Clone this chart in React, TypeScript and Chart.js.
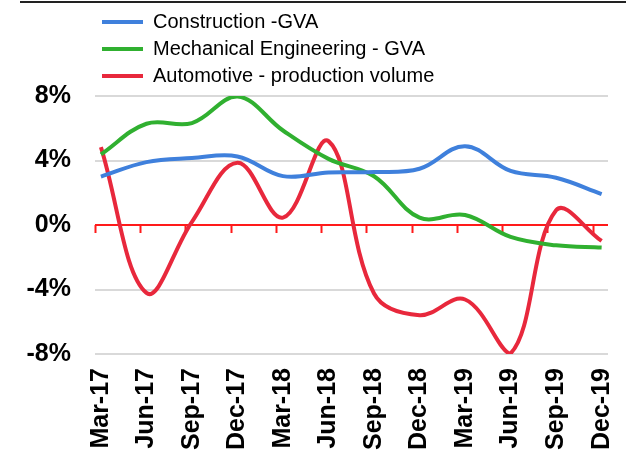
import React, { useEffect, useRef } from "react";
import { Chart, registerables } from "chart.js";

Chart.register(...registerables);

const categories = ["Mar-17", "Jun-17", "Sep-17", "Dec-17", "Mar-18", "Jun-18", "Sep-18", "Dec-18", "Mar-19", "Jun-19", "Sep-19", "Dec-19"];
const construction = [3.0, 3.9, 4.15, 4.25, 3.03, 3.26, 3.28, 3.49, 4.89, 3.35, 2.93, 1.92];
const mechanical = [4.38, 6.28, 6.32, 7.97, 5.86, 4.1, 3.02, 0.46, 0.62, -0.74, -1.26, -1.4];
const automotive = [4.83, -4.21, 0.2, 3.86, 0.46, 5.2, -4.25, -5.59, -4.62, -7.96, 0.91, -0.99];
const yTicks = [-8, -4, 0, 4, 8];
const seriesNames = ["Construction -GVA", "Mechanical Engineering - GVA", "Automotive - production volume"];

const BLUE = "#3f80dc";
const GREEN = "#30b030";
const RED = "#e8283c";
const FONT = "'Liberation Sans', Arial, sans-serif";

const toPoints = (arr: number[]) => arr.map((v, i) => ({ x: i, y: v }));

const decorPlugin = {
  id: "decor",
  beforeDatasetsDraw(chart: any) {
    const { ctx, chartArea, scales } = chart;
    const xs = scales.x;
    const ys = scales.y;
    const y0 = ys.getPixelForValue(0);
    ctx.save();
    ctx.strokeStyle = "#ff1a1a";
    ctx.lineWidth = 2;
    ctx.beginPath();
    ctx.moveTo(chartArea.left, y0);
    ctx.lineTo(chartArea.right, y0);
    for (let i = 0; i < categories.length; i++) {
      const x = Math.round(xs.getPixelForValue(i * 0.994 - 0.13)) + 0.5;
      ctx.moveTo(x, y0);
      ctx.lineTo(x, y0 + 8);
    }
    ctx.stroke();
    ctx.restore();
  },
  afterDraw(chart: any) {
    const { ctx } = chart;
    ctx.save();
    ctx.strokeStyle = "#222";
    ctx.lineWidth = 2;
    ctx.beginPath();
    ctx.moveTo(20, 2);
    ctx.lineTo(626, 2);
    ctx.stroke();
    ctx.restore();
  },
};

export default function App() {
  const ref = useRef<HTMLCanvasElement | null>(null);
  useEffect(() => {
    if (!ref.current) return;
    const mk = (label: string, data: number[], color: string) => ({
      label,
      data: toPoints(data),
      borderColor: color,
      backgroundColor: color,
      borderWidth: 4,
      pointRadius: 0,
      tension: 0.38,
      fill: false,
    });
    const chart = new Chart(ref.current, {
      type: "line",
      data: {
        datasets: [
          mk(seriesNames[0], construction, BLUE),
          mk(seriesNames[1], mechanical, GREEN),
          mk(seriesNames[2], automotive, RED),
        ],
      },
      plugins: [decorPlugin],
      options: {
        animation: false,
        responsive: false,
        maintainAspectRatio: false,
        layout: { padding: { top: 5, right: 18, bottom: 0, left: 0 } },
        plugins: {
          tooltip: { enabled: false },
          legend: {
            position: "top",
            align: "start",
            fullSize: false,
            labels: {
              boxWidth: 41,
              boxHeight: 4,
              padding: 7,
              color: "#000",
              font: { family: FONT, size: 20 },
              generateLabels(chart: any) {
                return chart.data.datasets.map((ds: any, i: number) => ({
                  text: ds.label,
                  fillStyle: ds.borderColor,
                  strokeStyle: ds.borderColor,
                  lineWidth: 0,
                  hidden: false,
                  datasetIndex: i,
                  fontColor: "#000",
                }));
              },
            },
          },
        },
        scales: {
          x: {
            type: "linear",
            min: -0.13,
            max: 11.14,
            afterBuildTicks(scale: any) {
              scale.ticks = categories.map((_, i) => ({ value: i }));
            },
            afterFit(scale: any) {
              scale.height = 105;
              scale.paddingLeft = 0;
              scale.paddingRight = 0;
            },
            grid: { display: false, drawTicks: false },
            border: { display: false },
            ticks: {
              autoSkip: false,
              minRotation: 90,
              maxRotation: 90,
              padding: 14,
              color: "#000",
              font: { family: FONT, size: 25, weight: "bold" },
              callback: (v: any) => categories[Math.round(Number(v))] ?? "",
            },
          },
          y: {
            min: -8,
            max: 8,
            afterBuildTicks(scale: any) {
              scale.ticks = yTicks.map((v) => ({ value: v }));
            },
            afterFit(scale: any) {
              scale.width = 95;
              scale.paddingTop = 0;
              scale.paddingBottom = 0;
            },
            grid: {
              drawTicks: false,
              lineWidth: 2,
              color: (c: any) => (c.tick && c.tick.value === 0 ? "rgba(0,0,0,0)" : "#d9d9d9"),
            },
            border: { display: false },
            ticks: {
              padding: 24,
              color: "#000",
              font: { family: FONT, size: 25, weight: "bold" },
              callback: (v: any) => `${v}%`,
            },
          },
        },
      },
    } as any);
    return () => chart.destroy();
  }, []);
  return (
    <div style={{ position: "fixed", left: 0, top: 0, width: 626, height: 459, background: "#fff" }}>
      <canvas ref={ref} width={626} height={459} style={{ width: 626, height: 459, display: "block" }} />
    </div>
  );
}
